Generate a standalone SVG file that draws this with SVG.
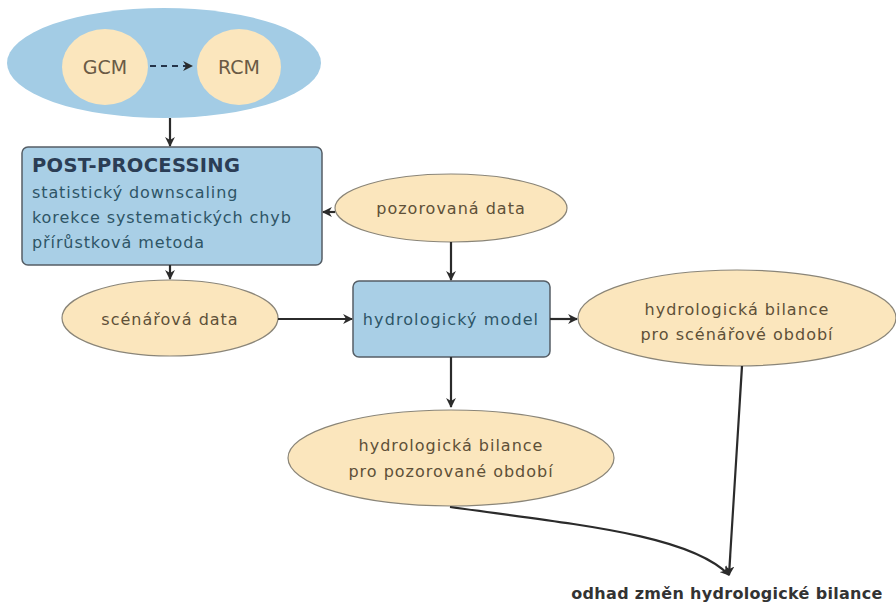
<svg xmlns="http://www.w3.org/2000/svg" width="896" height="606" viewBox="0 0 896 606">
<defs>
<style>
.blue{fill:#a9cfe6;stroke:#555e66;stroke-width:1.5}
.beige{fill:#fbe6bd;stroke:#8a8578;stroke-width:1.2}
.bt{font-family:"DejaVu Sans",sans-serif;fill:#2e5566;font-size:16px;letter-spacing:0.9px}
.et{font-family:"DejaVu Sans",sans-serif;fill:#5e5038;text-anchor:middle;font-size:16px;letter-spacing:1px}
.ct{font-family:"DejaVu Sans",sans-serif;fill:#6a5a45;text-anchor:middle;font-size:19px}
.conn{fill:none;stroke:#2b2b2b;stroke-width:2.2}
</style>
<marker id="ah" viewBox="0 0 10 10" refX="9" refY="5" markerWidth="4.5" markerHeight="4.5" orient="auto" markerUnits="strokeWidth">
<path d="M0,0 L10,5 L0,10 L3,5 z" fill="#2b2b2b"/>
</marker>
</defs>
<rect width="896" height="606" fill="#ffffff"/>
<g id="climate">
<ellipse cx="164" cy="63" rx="157" ry="55" fill="#a3cce5"/>
</g>
<g id="gcm">
<ellipse cx="105" cy="67" rx="43" ry="38" fill="#fbe6bd"/>
<text x="105" y="74" class="ct">GCM</text>
</g>
<g id="rcm">
<ellipse cx="239" cy="67" rx="42" ry="38" fill="#fbe6bd"/>
<text x="239" y="74" class="ct">RCM</text>
</g>
<g id="postprocessing">
<rect x="22" y="147" width="300" height="118" rx="6" class="blue"/>
<text x="32" y="172" class="bt" font-weight="bold" style="fill:#2b3d55;font-size:19.5px;letter-spacing:0.3px">POST-PROCESSING</text>
<text x="32" y="198" class="bt">statistický downscaling</text>
<text x="32" y="223" class="bt">korekce systematických chyb</text>
<text x="32" y="248" class="bt">přírůstková metoda</text>
</g>
<g id="pozorovana">
<ellipse cx="451" cy="208" rx="116" ry="34" class="beige"/>
<text x="451" y="214" class="et">pozorovaná data</text>
</g>
<g id="scenarova">
<ellipse cx="170" cy="318" rx="108" ry="38" class="beige"/>
<text x="170" y="325" class="et">scénářová data</text>
</g>
<g id="model">
<rect x="353" y="281" width="197" height="76" rx="6" class="blue"/>
<text x="451" y="325" class="bt" text-anchor="middle" style="letter-spacing:1.1px">hydrologický model</text>
</g>
<g id="bilance-scen">
<ellipse cx="737" cy="318" rx="159" ry="48" class="beige"/>
<text x="737" y="315" class="et">hydrologická bilance</text>
<text x="737" y="340" class="et">pro scénářové období</text>
</g>
<g id="bilance-poz">
<ellipse cx="451" cy="458" rx="163" ry="48" class="beige"/>
<text x="451" y="451" class="et">hydrologická bilance</text>
<text x="451" y="477" class="et">pro pozorované období</text>
</g>
<g id="odhad">
<text x="727" y="599" font-family="DejaVu Sans,sans-serif" font-size="16" font-weight="bold" fill="#333333" text-anchor="middle" letter-spacing="0.3">odhad změn hydrologické bilance</text>
</g>
<g id="connectors">
<path d="M150,66 L192,66" class="conn" stroke-dasharray="6,5" marker-end="url(#ah)" style="stroke:#24344a"/>
<path d="M170,118 L170,146" class="conn" marker-end="url(#ah)"/>
<path d="M170,265 L170,279" class="conn" marker-end="url(#ah)"/>
<path d="M335,212 L323,212" class="conn" marker-end="url(#ah)"/>
<path d="M451,242 L451,280" class="conn" marker-end="url(#ah)"/>
<path d="M278,319 L352,319" class="conn" marker-end="url(#ah)"/>
<path d="M550,319 L577,319" class="conn" marker-end="url(#ah)"/>
<path d="M451,357 L451,407" class="conn" marker-end="url(#ah)"/>
<path d="M742,366 L729,575" class="conn" marker-end="url(#ah)"/>
<path d="M450,507 C580,525 690,535 729,575" class="conn" marker-end="url(#ah)"/>
</g>
</svg>
